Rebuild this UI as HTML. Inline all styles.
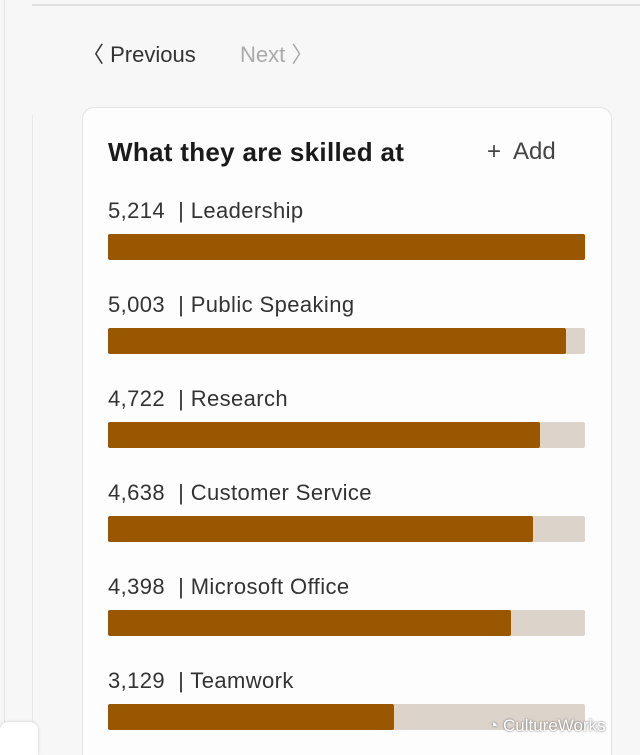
<!DOCTYPE html>
<html style="overflow:hidden"><head><style>
html,body{margin:0;width:640px;height:755px;overflow:hidden}
body{background:#f7f7f8;font-family:"Liberation Sans","DejaVu Sans",sans-serif;position:relative}
.a{position:absolute}
.lbl{position:absolute;left:108px;font-size:22px;color:#333;white-space:nowrap;letter-spacing:0.4px}
.track{position:absolute;left:108px;width:477px;height:26px;background:#dcd3cb;border-radius:2px}
.fill{height:100%;background:#985700;border-radius:2px}
</style></head><body>
<div class="a" style="left:4px;top:0;width:1px;height:755px;background:#e2e2e2"></div>
<div class="a" style="left:32px;top:4px;width:608px;height:2px;background:#e0e0e0"></div>
<div class="a" style="left:32px;top:115px;width:1px;height:640px;background:#e8e8e8"></div>
<div class="a" style="left:82px;top:37px;font-size:22px;color:#333">〈 Previous</div>
<div class="a" style="left:240px;top:37px;font-size:22px;color:#aaa">Next 〉</div>
<div class="a" style="left:82px;top:107px;width:528px;height:660px;background:#fdfdfd;border:1px solid #e4e4e4;border-radius:12px 12px 0 0;border-bottom:none;max-height:648px"></div>
<div class="a" style="left:108px;top:137px;font-size:26px;font-weight:bold;color:#1a1a1a;letter-spacing:0.3px">What they are skilled at</div>
<div class="a" style="left:487px;top:138px;font-size:24px;color:#444">+&nbsp; Add</div>

<div class="lbl" style="top:198px">5,214 &nbsp;| Leadership</div>
<div class="track" style="top:234px"><div class="fill" style="width:477px"></div></div>
<div class="lbl" style="top:292px">5,003 &nbsp;| Public Speaking</div>
<div class="track" style="top:328px"><div class="fill" style="width:458px"></div></div>
<div class="lbl" style="top:386px">4,722 &nbsp;| Research</div>
<div class="track" style="top:422px"><div class="fill" style="width:432px"></div></div>
<div class="lbl" style="top:480px">4,638 &nbsp;| Customer Service</div>
<div class="track" style="top:516px"><div class="fill" style="width:425px"></div></div>
<div class="lbl" style="top:574px">4,398 &nbsp;| Microsoft Office</div>
<div class="track" style="top:610px"><div class="fill" style="width:403px"></div></div>
<div class="lbl" style="top:668px">3,129 &nbsp;| Teamwork</div>
<div class="track" style="top:704px"><div class="fill" style="width:286px"></div></div>

<div class="a" style="left:0;top:722px;width:38px;height:33px;background:#fff;border-radius:8px 8px 0 0;box-shadow:0 0 3px #ccc"></div>
<div class="a" style="left:488px;top:716px;font-size:17px;line-height:20px;color:#fff;text-shadow:0 0 2px #555">◔ CultureWorks</div>
</body></html>
